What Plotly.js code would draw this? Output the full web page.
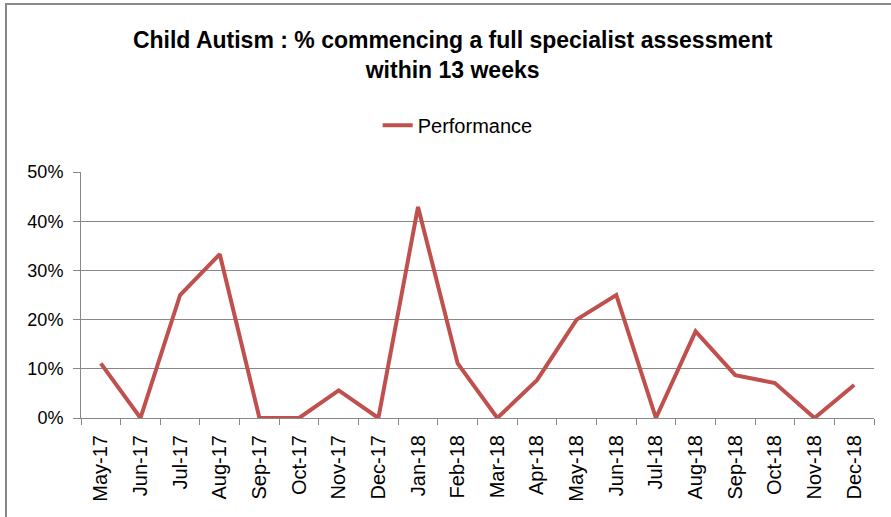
<!DOCTYPE html>
<html>
<head>
<meta charset="utf-8">
<script src="https://cdn.plot.ly/plotly-3.0.1.min.js"></script>
<style>
html,body{margin:0;padding:0;background:#fff;}
#wrap{position:relative;width:891px;height:517px;}
#chart{width:891px;height:517px;}
#frame{position:absolute;left:5px;top:3px;right:0;bottom:0;border-left:2px solid #888;border-top:2px solid #888;pointer-events:none;}
</style>
</head>
<body>
<div id="wrap"><div id="chart"></div><div id="frame"></div></div>
<script>
const months = ["May-17","Jun-17","Jul-17","Aug-17","Sep-17","Oct-17","Nov-17","Dec-17","Jan-18","Feb-18","Mar-18","Apr-18","May-18","Jun-18","Jul-18","Aug-18","Sep-18","Oct-18","Nov-18","Dec-18"];
const performance = [0.111,0,0.25,0.333,0,0,0.056,0,0.429,0.111,0,0.077,0.20,0.25,0,0.176,0.087,0.071,0,0.067];
const yTicks = [0,0.1,0.2,0.3,0.4,0.5];
const yTickText = ["0%","10%","20%","30%","40%","50%"];

const font = "'Liberation Sans', Arial, sans-serif";
Plotly.newPlot('chart', [{
  x: months, y: performance, type: 'scatter', mode: 'lines', name: 'Performance',
  line: {color: '#C0504D', width: 4}
}], {
  width: 891, height: 517,
  margin: {l: 81, r: 17, t: 172, b: 99},
  paper_bgcolor: '#fff', plot_bgcolor: '#fff',
  font: {family: font, size: 17, color: '#000'},
  title: {text: '<b>Child Autism : % commencing a full specialist assessment<br>within 13 weeks</b>', x: 0.508, xanchor: 'center', y: 0.907, yanchor: 'top', font: {family: font, size: 23, color: '#000'}},
  showlegend: true,
  legend: {orientation: 'h', x: 0.475, xanchor: 'center', y: 1.19, yanchor: 'middle', font: {family: font, size: 20}},
  xaxis: {type: 'category', range: [-0.5, 19.5], tickangle: -90, tickson: 'boundaries', ticks: 'outside', ticklen: 6, tickcolor: '#888',
    ticklabelstandoff: 8, showline: true, linecolor: '#888', linewidth: 1, showgrid: false, tickfont: {family: font, size: 20}},
  yaxis: {range: [0, 0.5], tickvals: yTicks, ticktext: yTickText, ticks: 'outside', ticklen: 7, tickcolor: '#888',
    ticklabelstandoff: 6, showline: true, linecolor: '#888', gridcolor: '#888', gridwidth: 1, zeroline: false, tickfont: {family: font, size: 18}}
}, {displayModeBar: false, staticPlot: true});
</script>
</body>
</html>
